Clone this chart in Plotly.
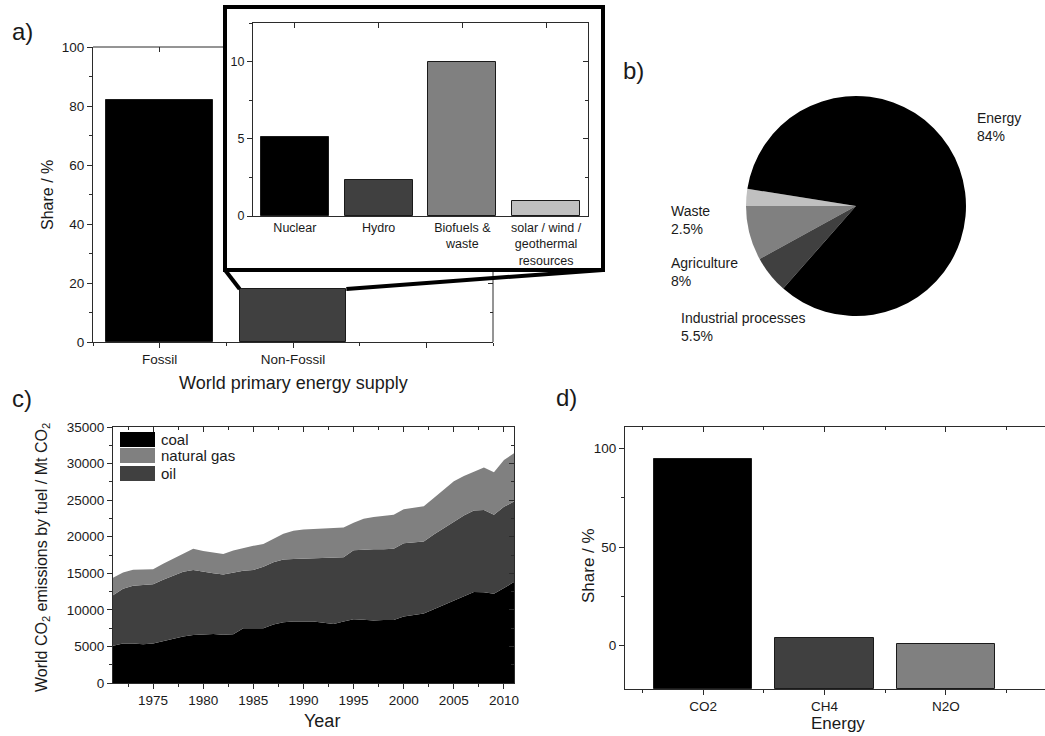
import plotly.graph_objects as go

FONT = "Arial, Liberation Sans, sans-serif"
INK = "#1a1a1a"
AXIS = "#2b2b2b"
W, H = 1045, 736

# ---------------- data ----------------
# a) world primary energy supply
supply_cats = ["Fossil", "Non-Fossil", ""]
supply_share = [82, 18]
supply_colors = ["#000000", "#404040"]

# a) inset: non-fossil sources
nonfossil_cats = ["Nuclear", "Hydro", "Biofuels &<br>waste",
                  "solar / wind /<br>geothermal<br>resources"]
nonfossil_share = [5.1, 2.3, 10.0, 1.0]
nonfossil_colors = ["#000000", "#404040", "#808080", "#c0c0c0"]

# b) greenhouse gas emissions by sector
sector_labels = ["Waste", "Agriculture", "Industrial processes", "Energy"]
sector_share = [2.5, 8.0, 5.5, 84.0]
sector_colors = ["#c0c0c0", "#808080", "#404040", "#000000"]

# c) world CO2 emissions by fuel, Mt CO2
years = list(range(1971, 2012))
coal = [5100, 5400, 5400, 5300, 5400, 5750, 6050, 6350, 6550, 6600,
        6700, 6600, 6650, 7500, 7450, 7500, 8000, 8300, 8400, 8400,
        8400, 8250, 8050, 8400, 8700, 8650, 8550, 8600, 8600, 9100,
        9300, 9500, 10100, 10700, 11300, 11900, 12450, 12400, 12200, 13000,
        13800]
oil = [6900, 7500, 7900, 8100, 8100, 8350, 8650, 8850, 8900, 8600,
       8300, 8250, 8500, 7850, 8000, 8400, 8500, 8600, 8550, 8600,
       8650, 8850, 9100, 8800, 9450, 9600, 9750, 9700, 9750, 10000,
       9950, 9850, 10200, 10500, 10700, 11000, 11150, 11250, 10800, 11100,
       11000]
natural_gas = [2400, 2200, 2200, 2100, 2050, 2200, 2300, 2500, 2900, 2850,
               2850, 2800, 2950, 3100, 3300, 3100, 3200, 3500, 3850, 4000,
               4000, 4000, 4000, 4050, 3750, 4200, 4400, 4600, 4650, 4650,
               4750, 4800, 5000, 5300, 5600, 5400, 5300, 5800, 5800, 6400,
               6600]
fuel_colors = {"coal": "#000000", "natural gas": "#808080", "oil": "#404040"}

# d) energy-related emissions by gas
ghg_cats = ["CO2", "CH4", "N2O"]
ghg_share = [95, 3.8, 1.0]
ghg_colors = ["#000000", "#404040", "#808080"]


def px(x):
    return x / W


def py(y):
    return 1 - y / H


# ---------------- panel geometry ----------------
A_X = [px(93), px(493)]
A_Y = [py(342), py(47)]
IN_X = [px(253), px(588)]
IN_Y = [py(216), py(23)]
C_X = [px(113), px(514)]
C_Y = [py(683), py(427)]
D_X = [px(625), 1.0]
D_Y = [py(689), py(427)]
PIE_X = [px(746), px(966)]
PIE_Y = [py(316), py(96)]

A_XRANGE = [0.5, 3.5]
A_YRANGE = [0, 100]
IN_XRANGE = [-0.5, len(nonfossil_cats) - 0.5]
IN_YRANGE = [0, 12.5]
C_XRANGE = [1971, 2011]
C_YRANGE = [0, 35000]
D_XRANGE = [-0.643, 2.816]
D_YRANGE = [-22, 111]

tickfont = dict(family=FONT, size=13.5, color=INK)
smallfont = dict(family=FONT, size=12.5, color=INK)


def axis(**kw):
    base = dict(showline=True, linecolor=AXIS, linewidth=1, ticks="outside",
                ticklen=5, tickwidth=1, tickcolor=AXIS, showgrid=False,
                zeroline=False, tickfont=tickfont, fixedrange=True)
    base.update(kw)
    return base


def minor(kind="outside", **kw):
    base = dict(ticks=kind, ticklen=3, tickwidth=1, tickcolor=AXIS,
                showgrid=False)
    base.update(kw)
    return base


def mirror_axis(**kw):
    """Tick-only axis on the top/right edge with inward-pointing ticks."""
    base = dict(showline=False, showticklabels=False, ticks="inside",
                ticklen=5, tickwidth=1, tickcolor=AXIS, showgrid=False,
                zeroline=False, fixedrange=True)
    base.update(kw)
    return base


fig = go.Figure()

# a) main bars
supply_pos = list(range(1, len(supply_cats) + 1))
fig.add_trace(go.Bar(
    x=supply_pos[:len(supply_share)], y=supply_share, width=0.8,
    marker=dict(color=supply_colors, line=dict(color=INK, width=1)),
    xaxis="x", yaxis="y", showlegend=False, hoverinfo="skip"))

# a) inset bars
nonfossil_pos = list(range(len(nonfossil_cats)))
fig.add_trace(go.Bar(
    x=nonfossil_pos, y=nonfossil_share, width=0.81,
    marker=dict(color=nonfossil_colors, line=dict(color=INK, width=1)),
    xaxis="x2", yaxis="y2", showlegend=False, hoverinfo="skip"))

# b) pie
fig.add_trace(go.Pie(
    labels=sector_labels, values=sector_share, sort=False,
    direction="counterclockwise", rotation=270,
    marker=dict(colors=sector_colors, line=dict(width=0)),
    textinfo="none", hoverinfo="none", showlegend=False,
    domain=dict(x=PIE_X, y=PIE_Y)))

# c) stacked areas: coal at the bottom, oil, then natural gas on top
for name, vals in [("coal", coal), ("oil", oil), ("natural gas", natural_gas)]:
    fig.add_trace(go.Scatter(
        x=years, y=vals, name=name, mode="lines", stackgroup="fuel",
        line=dict(width=0, color=fuel_colors[name]),
        fillcolor=fuel_colors[name], xaxis="x3", yaxis="y3",
        showlegend=False, hoverinfo="skip"))

# d) bars rising from the bottom of the frame
ghg_pos = list(range(len(ghg_cats)))
fig.add_trace(go.Bar(
    x=ghg_pos, y=[v - D_YRANGE[0] for v in ghg_share], base=D_YRANGE[0],
    width=0.81,
    marker=dict(color=ghg_colors, line=dict(color=INK, width=1)),
    xaxis="x4", yaxis="y4", showlegend=False, hoverinfo="skip"))

# empty traces that attach the inward-tick edge axes to their panels
for xa, ya in [("x6", "y"), ("x", "y6"), ("x7", "y2"), ("x2", "y7"),
               ("x5", "y3"), ("x3", "y5"), ("x8", "y4")]:
    fig.add_trace(go.Scatter(x=[None], y=[None], xaxis=xa, yaxis=ya,
                             mode="markers", showlegend=False,
                             hoverinfo="skip"))

supply_minor = [p - 0.5 for p in supply_pos] + [supply_pos[-1] + 0.5]
ghg_minor = [p - 0.5 for p in ghg_pos] + [ghg_pos[-1] + 0.5]

fig.update_layout(
    width=W, height=H, margin=dict(l=0, r=0, t=0, b=0),
    template="none", paper_bgcolor="white", plot_bgcolor="white",
    font=dict(family=FONT, color=INK), showlegend=False, bargap=0,
    # a)
    xaxis=axis(domain=A_X, anchor="y", range=A_XRANGE, tickmode="array",
               tickvals=supply_pos, ticktext=supply_cats,
               minor=minor(tickvals=supply_minor)),
    yaxis=axis(domain=A_Y, anchor="x", range=A_YRANGE, tick0=0, dtick=20,
               minor=minor(dtick=10)),
    # a) inward ticks on the edges left uncovered by the inset
    xaxis6=mirror_axis(overlaying="x", anchor="y", side="top", range=A_XRANGE,
                       tickmode="array", tickvals=supply_pos[:1]),
    yaxis6=mirror_axis(overlaying="y", anchor="x", side="right", range=A_YRANGE,
                       tickmode="array", tickvals=[0, 20],
                       minor=minor("inside", tickvals=[10])),
    # a) inset
    xaxis2=axis(domain=IN_X, anchor="y2", range=IN_XRANGE,
                tickmode="array", tickvals=nonfossil_pos, ticktext=nonfossil_cats,
                ticks="", mirror=True, tickfont=smallfont),
    yaxis2=axis(domain=IN_Y, anchor="x2", range=IN_YRANGE, tick0=0, dtick=5,
                mirror=True, minor=minor(dtick=2.5), tickfont=smallfont),
    xaxis7=mirror_axis(overlaying="x2", anchor="y2", side="top", range=IN_XRANGE,
                       tickmode="array", tickvals=nonfossil_pos),
    yaxis7=mirror_axis(overlaying="y2", anchor="x2", side="right", range=IN_YRANGE,
                       tick0=0, dtick=5, minor=minor("inside", dtick=2.5)),
    # c)
    xaxis3=axis(domain=C_X, anchor="y3", range=C_XRANGE, tick0=1975, dtick=5,
                mirror=True, minor=minor(dtick=2.5)),
    yaxis3=axis(domain=C_Y, anchor="x3", range=C_YRANGE, tick0=0, dtick=5000,
                tickformat="d", mirror=True, minor=minor(dtick=2500)),
    xaxis5=mirror_axis(overlaying="x3", anchor="y3", side="top", range=C_XRANGE,
                       tick0=1975, dtick=5, minor=minor("inside", dtick=2.5)),
    yaxis5=mirror_axis(overlaying="y3", anchor="x3", side="right", range=C_YRANGE,
                       tick0=0, dtick=5000, minor=minor("inside", dtick=2500)),
    # d)
    xaxis4=axis(domain=D_X, anchor="y4", range=D_XRANGE, tickmode="array",
                tickvals=ghg_pos, ticktext=ghg_cats, mirror=True,
                minor=minor(tickvals=ghg_minor)),
    yaxis4=axis(domain=D_Y, anchor="x4", range=D_YRANGE, tickmode="array",
                tickvals=[0, 50, 100], minor=minor(tickvals=[25, 75])),
    xaxis8=mirror_axis(overlaying="x4", anchor="y4", side="top", range=D_XRANGE,
                       tickmode="array", tickvals=ghg_pos,
                       minor=minor("inside", tickvals=ghg_minor)),
)

# ---------------- frame of panel a and the inset box ----------------
line_k = dict(color=AXIS, width=1)
shapes = [
    dict(type="line", xref="paper", yref="paper", x0=A_X[0], x1=A_X[1],
         y0=A_Y[1], y1=A_Y[1], line=line_k, layer="below"),
    dict(type="line", xref="paper", yref="paper", x0=A_X[1], x1=A_X[1],
         y0=A_Y[0], y1=A_Y[1], line=line_k, layer="below"),
    dict(type="rect", xref="paper", yref="paper", x0=px(225), x1=px(603),
         y0=py(270), y1=py(7), fillcolor="white",
         line=dict(color="black", width=4), layer="below"),
]

# zoom connectors from the inset box to the top corners of the Non-Fossil bar
nf_val = supply_share[1]
nf_left = supply_pos[1] - 0.4
nf_right = supply_pos[1] + 0.4


def a_paper_x(v):
    return A_X[0] + (v - A_XRANGE[0]) / (A_XRANGE[1] - A_XRANGE[0]) * (A_X[1] - A_X[0])


def a_paper_y(v):
    return A_Y[0] + (v - A_YRANGE[0]) / (A_YRANGE[1] - A_YRANGE[0]) * (A_Y[1] - A_Y[0])


for corner_x, bar_x in [(px(225), nf_left), (px(603), nf_right)]:
    shapes.append(dict(type="line", xref="paper", yref="paper",
                       x0=corner_x, y0=py(270), x1=a_paper_x(bar_x),
                       y1=a_paper_y(nf_val), line=dict(color="black", width=4),
                       layer="above"))

# legend of panel c
legend_order = ["coal", "natural gas", "oil"]
legend_rows = [(432, 447), (448, 463), (466, 481)]
annotations = []
for name, (top, bottom) in zip(legend_order, legend_rows):
    shapes.append(dict(type="rect", xref="paper", yref="paper",
                       x0=px(120), x1=px(155), y0=py(bottom), y1=py(top),
                       fillcolor=fuel_colors[name], line=dict(width=0),
                       layer="above"))
    annotations.append(dict(text=name, x=px(159), y=py((top + bottom) / 2),
                            xref="paper", yref="paper", xanchor="left",
                            yanchor="middle", showarrow=False,
                            font=dict(family=FONT, size=15, color=INK)))

# pie labels
pie_label_pos = {"Energy": (975, 127), "Waste": (669, 220),
                 "Agriculture": (669, 272), "Industrial processes": (679, 327)}
for lab, val in zip(sector_labels, sector_share):
    x0, y0 = pie_label_pos[lab]
    annotations.append(dict(text=f"{lab}<br>{val:g}%", x=px(x0), y=py(y0),
                            xref="paper", yref="paper", xanchor="left",
                            yanchor="middle", align="left", showarrow=False,
                            font=dict(family=FONT, size=14, color=INK)))


def label(text, x, y, size, angle=0):
    annotations.append(dict(text=text, x=px(x), y=py(y), xref="paper",
                            yref="paper", xanchor="center", yanchor="middle",
                            textangle=angle, showarrow=False,
                            font=dict(family=FONT, size=size, color=INK)))


# axis titles
label("Share / %", 47, 195, 16, -90)
label("World primary energy supply", 293, 383, 18)
label("World CO<sub>2</sub> emissions by fuel / Mt CO<sub>2</sub>", 42, 558, 16, -90)
label("Year", 322, 721, 18)
label("Share / %", 588, 566, 17, -90)
label("Energy", 838, 723, 17)

# panel letters
label("a)", 22, 31, 24)
label("b)", 633, 70, 24)
label("c)", 22, 398, 24)
label("d)", 566, 397, 24)

fig.update_layout(shapes=shapes, annotations=annotations)
fig.write_html("out.html")
